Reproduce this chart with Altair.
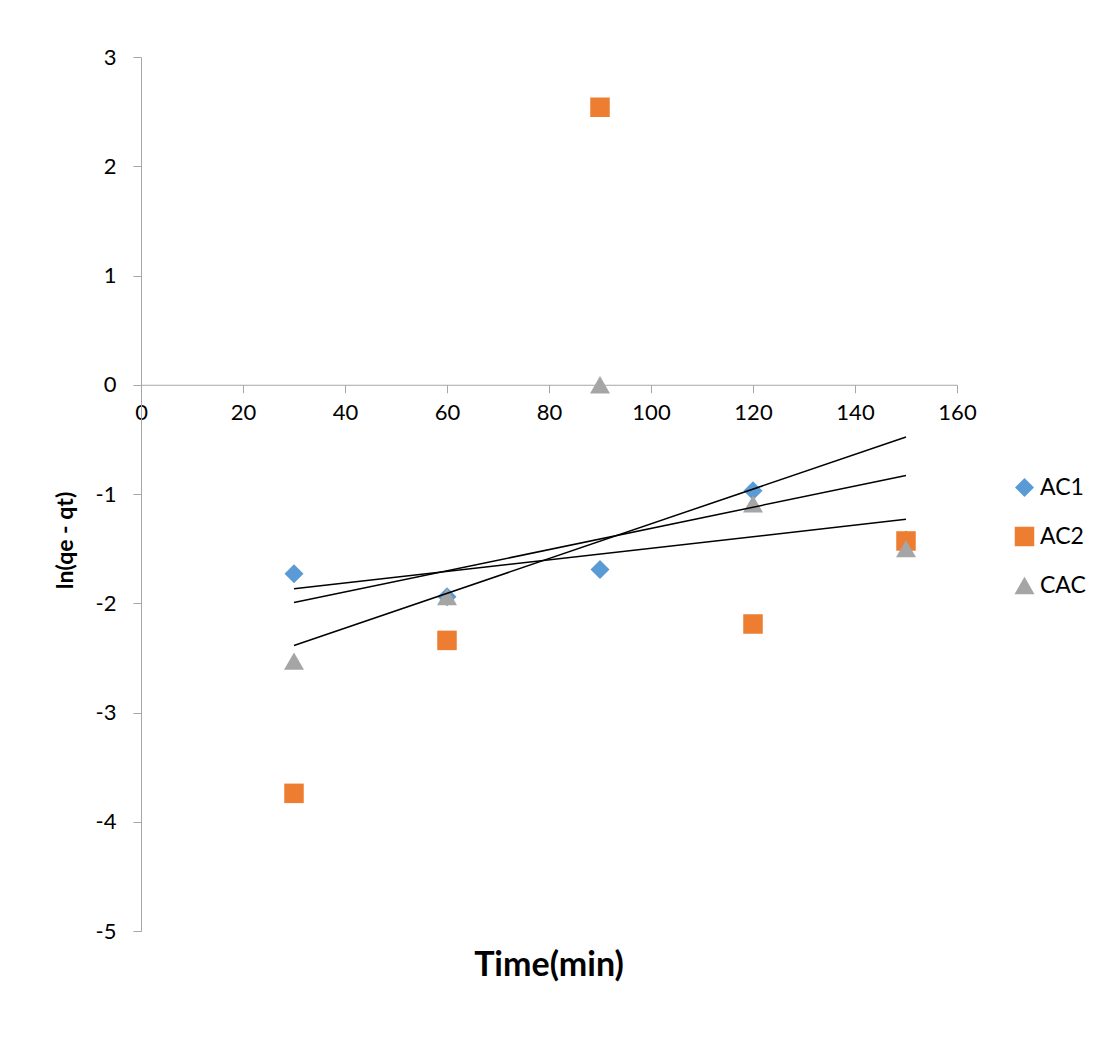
import altair as alt
import pandas as pd

# ---- data ----
times = [30, 60, 90, 120, 150]
ac1 = [-1.73, -1.94, -1.69, -0.97, -1.42]
ac2 = [-3.74, -2.34, 2.54, -2.19, -1.43]
cac = [-2.53, -1.94, 0.0, -1.09, -1.50]

series_names = ["AC1", "AC2", "CAC"]
series_colors = ["#5B9BD5", "#ED7D31", "#A5A5A5"]
series_shapes = ["diamond", "square", "triangle-up"]
series_sizes = [361, 400, 441]

x_ticks = [0, 20, 40, 60, 80, 100, 120, 140, 160]
y_ticks = [-5, -4, -3, -2, -1, 0, 1, 2, 3]

rows = []
for name, vals in zip(series_names, [ac1, ac2, cac]):
    for t, v in zip(times, vals):
        rows.append({"time": t, "value": v, "series": name})
df = pd.DataFrame(rows)

W, H = 816, 874
FONT = "Lato"
AXIS_GRAY = "#A6A6A6"

x_enc = alt.X(
    "time:Q",
    scale=alt.Scale(domain=[0, 160], nice=False, zero=False),
    axis=alt.Axis(
        values=x_ticks, title=None, grid=False,
        offset=-(H * 5 / 8),
        domainColor=AXIS_GRAY, tickColor=AXIS_GRAY, tickSize=8,
        labelFontSize=22, labelFont=FONT, labelColor="black",
        labelPadding=10, labelFlush=False, labelOverlap=False,
        labelExpr="'' + datum.value",
    ),
)
y_enc = alt.Y(
    "value:Q",
    scale=alt.Scale(domain=[-5, 3], nice=False, zero=False),
    axis=alt.Axis(
        values=y_ticks, title="ln(qe - qt)", grid=False,
        domainColor=AXIS_GRAY, tickColor=AXIS_GRAY, tickSize=8,
        labelFontSize=22, labelFont=FONT, labelColor="black",
        labelPadding=17, labelFlush=False, labelOverlap=False,
        labelExpr="'' + datum.value",
        titleFont=FONT, titleFontSize=23, titleFontWeight="bold",
        titleColor="black", titlePadding=18, titleY=483,
    ),
)

base = alt.Chart(df)

points = base.mark_point(filled=True, opacity=1, strokeWidth=0).encode(
    x=x_enc,
    y=y_enc,
    color=alt.Color(
        "series:N",
        scale=alt.Scale(domain=series_names, range=series_colors),
        legend=alt.Legend(
            title=None, orient="none", legendX=872, legendY=419,
            labelFontSize=23, labelFont=FONT, labelColor="black",
            symbolSize=290, rowPadding=25, labelOffset=4, padding=0,
            symbolStrokeWidth=0,
        ),
    ),
    shape=alt.Shape(
        "series:N",
        scale=alt.Scale(domain=series_names, range=series_shapes),
    ),
    size=alt.Size(
        "series:N",
        scale=alt.Scale(domain=series_names, range=series_sizes),
        legend=None,
    ),
    order=alt.Order("series:N"),
)

trend = base.transform_regression(
    "time", "value", groupby=["series"]
).mark_line(color="black", strokeWidth=1.5).encode(
    x=x_enc,
    y=y_enc,
    detail="series:N",
)

chart = alt.layer(points, trend).properties(
    width=W,
    height=H,
    background="white",
    padding={"left": 141, "top": 57, "right": 144, "bottom": 124},
    autosize=alt.AutoSizeParams(type="none"),
    title=alt.TitleParams(
        "Time(min)", orient="bottom", anchor="middle", frame="group",
        font=FONT, fontSize=34, fontWeight="bold", color="black", offset=7,
    ),
).configure_view(
    stroke=None, strokeWidth=0
).configure_axisY(
    titleFontSize=23, titleFont=FONT, titleFontWeight="bold"
)

chart.save("out.html", embed_options={"renderer": "svg", "actions": False})
